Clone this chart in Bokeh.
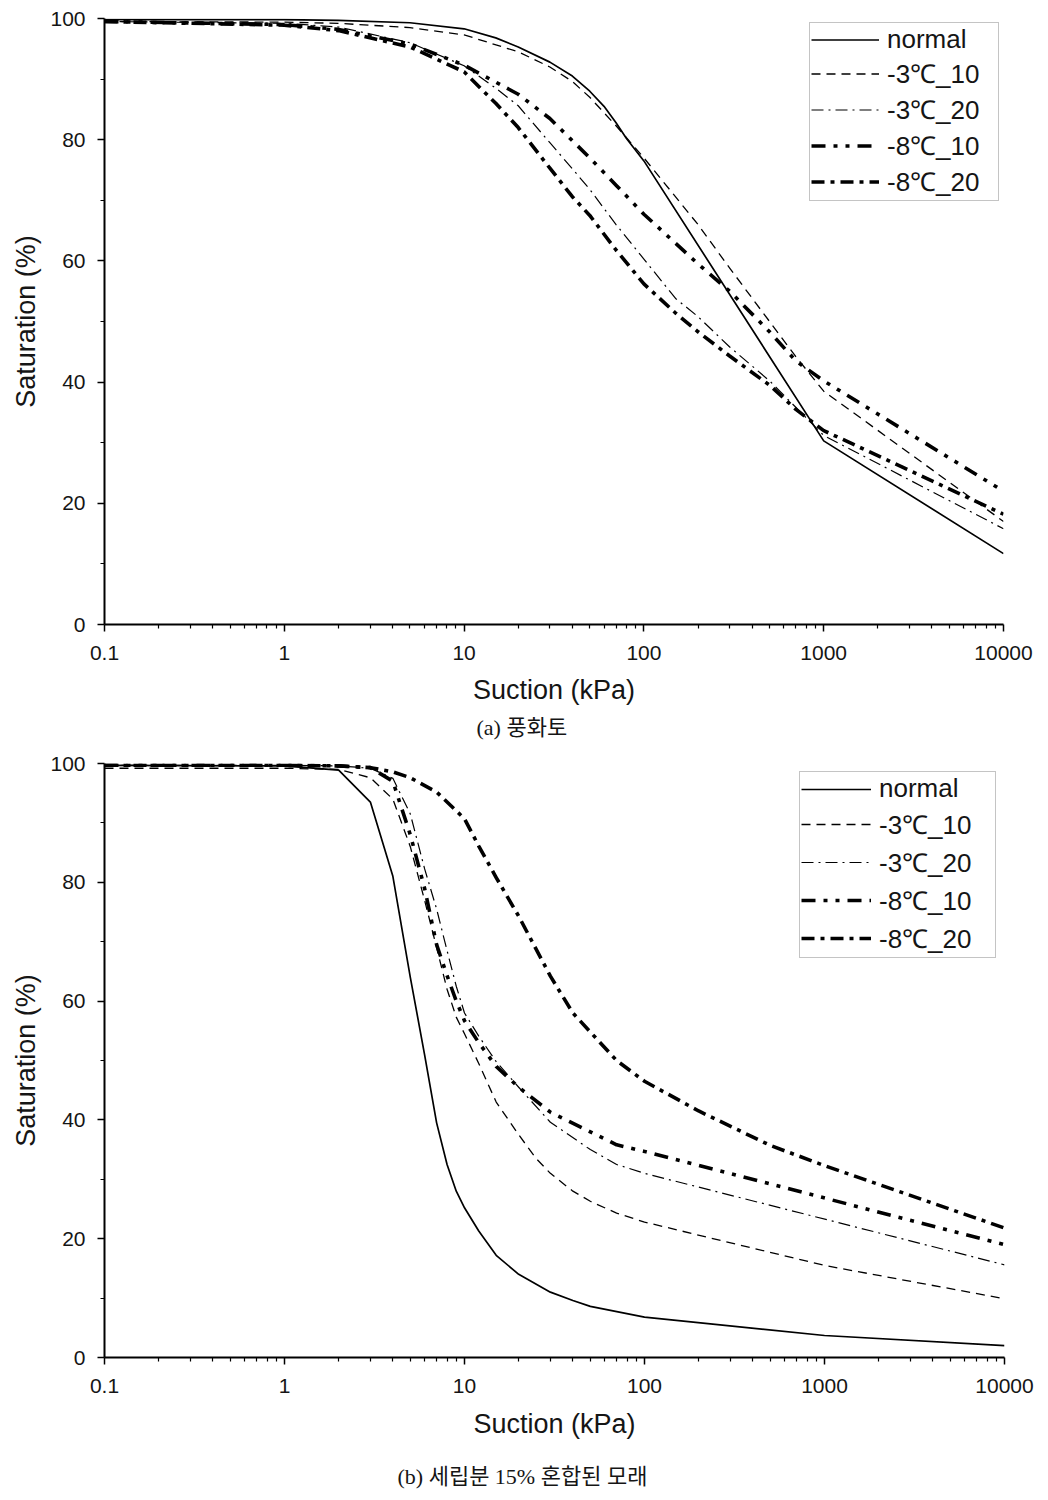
from bokeh.plotting import figure
from bokeh.models import (FixedTicker, CustomJSTickFormatter, Legend, LegendItem,
                          Title, Range1d)
from bokeh.layouts import column
from bokeh.embed import file_html
from bokeh.resources import INLINE

# ---------------- tick / label data ----------------
x_major_ticks = [0.1, 1, 10, 100, 1000, 10000]
x_minor_ticks = [m * d for d in (0.1, 1, 10, 100, 1000) for m in range(2, 10)]
y_major_ticks = [0, 20, 40, 60, 80, 100]
y_minor_ticks = [10, 30, 50, 70, 90]
series_names = ["normal", "-3℃_10", "-3℃_20", "-8℃_10", "-8℃_20"]
x_label = "Suction (kPa)"
y_label = "Saturation (%)"
caption_a = "(a) 풍화토"
caption_b = "(b) 세립분 15% 혼합된 모래"

# ---------------- panel (a) data ----------------
a_normal_x = [0.1, 1, 2, 5, 10, 15, 20, 30, 40, 50, 60, 70, 80, 100, 1000, 10000]
a_normal_y = [99.8, 99.8, 99.7, 99.3, 98.3, 96.8, 95.3, 92.8, 90.5, 88.0, 85.5, 82.8, 80.2, 76.5, 30.3, 11.7]

a_m3_10_x = [0.1, 1, 2, 5, 10, 20, 30, 40, 50, 70, 100, 200, 300, 500, 700, 1000, 10000]
a_m3_10_y = [99.5, 99.4, 99.2, 98.5, 97.3, 94.5, 92.0, 89.6, 87.0, 82.3, 77.0, 66.0, 58.8, 50.0, 44.2, 38.5, 17.0]

a_m3_20_x = [0.1, 1, 2, 5, 10, 15, 20, 30, 40, 50, 70, 100, 150, 200, 300, 500, 1000, 10000]
a_m3_20_y = [99.5, 99.2, 98.6, 96.0, 92.2, 88.5, 85.6, 79.5, 75.2, 71.8, 66.0, 60.3, 53.8, 50.8, 45.8, 40.2, 31.2, 15.8]

a_m8_10_x = [0.1, 1, 2, 5, 10, 20, 30, 50, 70, 100, 200, 300, 500, 700, 1000, 10000]
a_m8_10_y = [99.5, 99.0, 98.2, 95.8, 92.3, 87.5, 83.5, 77.0, 72.5, 67.7, 59.5, 55.0, 48.3, 43.5, 40.2, 22.0]

a_m8_20_x = [0.1, 1, 2, 5, 10, 15, 20, 30, 40, 50, 70, 100, 150, 200, 300, 500, 700, 1000, 10000]
a_m8_20_y = [99.5, 98.9, 98.0, 95.3, 91.2, 86.0, 82.0, 75.3, 70.6, 67.5, 61.8, 56.2, 51.4, 48.3, 44.3, 39.5, 35.5, 32.0, 18.2]

# ---------------- panel (b) data ----------------
b_normal_x = [0.1, 1, 2, 3, 4, 5, 6, 7, 8, 9, 10, 12, 15, 20, 30, 40, 50, 100, 1000, 10000]
b_normal_y = [99.7, 99.6, 98.9, 93.5, 81.0, 64.0, 51.0, 39.5, 32.5, 28.0, 25.2, 21.3, 17.2, 14.0, 11.0, 9.6, 8.6, 6.8, 3.7, 2.0]

b_m3_10_x = [0.1, 1, 2, 3, 4, 5, 6, 7, 8, 9, 10, 12, 15, 20, 25, 30, 40, 50, 70, 100, 1000, 10000]
b_m3_10_y = [99.2, 99.2, 99.0, 97.6, 94.0, 86.0, 77.0, 69.0, 62.0, 57.3, 54.5, 49.5, 43.0, 37.5, 33.5, 31.0, 28.0, 26.3, 24.3, 22.8, 15.5, 9.9]

b_m3_20_x = [0.1, 1, 2, 3, 4, 5, 6, 7, 8, 9, 10, 12, 15, 20, 30, 50, 70, 100, 10000]
b_m3_20_y = [99.7, 99.7, 99.6, 99.2, 97.5, 91.5, 82.3, 75.5, 68.5, 62.5, 58.0, 54.1, 49.8, 45.5, 39.6, 35.0, 32.5, 31.0, 15.6]

b_m8_10_x = [0.1, 1, 2, 3, 4, 5, 6, 7, 8, 9, 10, 12, 15, 20, 30, 50, 70, 100, 10000]
b_m8_10_y = [99.7, 99.7, 99.6, 99.3, 97.0, 88.0, 79.0, 69.5, 64.3, 60.0, 56.7, 53.0, 49.0, 45.5, 41.3, 38.0, 35.8, 34.7, 19.0]

b_m8_20_x = [0.1, 1, 2, 3, 4, 5, 7, 10, 12, 15, 20, 30, 40, 50, 70, 100, 200, 500, 1000, 10000]
b_m8_20_y = [99.7, 99.7, 99.6, 99.3, 98.6, 97.6, 95.2, 90.7, 86.1, 80.8, 74.3, 64.2, 58.0, 54.8, 50.0, 46.5, 41.5, 35.7, 32.3, 21.8]

panel_a = [(a_normal_x, a_normal_y), (a_m3_10_x, a_m3_10_y), (a_m3_20_x, a_m3_20_y),
           (a_m8_10_x, a_m8_10_y), (a_m8_20_x, a_m8_20_y)]
panel_b = [(b_normal_x, b_normal_y), (b_m3_10_x, b_m3_10_y), (b_m3_20_x, b_m3_20_y),
           (b_m8_10_x, b_m8_10_y), (b_m8_20_x, b_m8_20_y)]

# ---------------- styles ----------------
STYLES = [
    dict(line_width=1.7, line_dash="solid"),
    dict(line_width=1.3, line_dash="9 6"),
    dict(line_width=1.2, line_dash="12 5 2 5"),
    dict(line_width=3.6, line_dash="14 8 4 8 4 8"),
    dict(line_width=3.6, line_dash="13 6 4 6"),
]
SANS = "Liberation Sans"
CAPTION_FONT = "'Liberation Serif', 'Noto Sans CJK KR'"
INK = "#151515"


def make_panel(series, caption, left, top, fw, fh, right, bottom, xlab_standoff,
               leg_margin, leg_gh, leg_sp, leg_gw, leg_lw, cap_offset, cap_standoff):
    p = figure(x_axis_type="log", x_range=Range1d(0.1, 10000), y_range=Range1d(0, 100),
               frame_width=fw, frame_height=fh,
               min_border_left=left, min_border_right=right,
               min_border_top=top, min_border_bottom=bottom,
               output_backend="svg", toolbar_location=None,
               x_axis_label=x_label, y_axis_label=y_label)
    p.outline_line_color = None
    p.grid.visible = False
    p.background_fill_color = "white"
    p.border_fill_color = "white"

    p.xaxis.ticker = FixedTicker(ticks=x_major_ticks, minor_ticks=x_minor_ticks)
    p.xaxis.formatter = CustomJSTickFormatter(code="return String(tick)")
    p.yaxis.ticker = FixedTicker(ticks=y_major_ticks, minor_ticks=y_minor_ticks)

    for ax in (p.xaxis[0], p.yaxis[0]):
        ax.axis_line_width = 2
        ax.axis_line_color = "black"
        ax.major_tick_line_color = "black"
        ax.major_tick_line_width = 1.5
        ax.major_tick_in = 0
        ax.major_tick_out = 7
        ax.minor_tick_line_color = "black"
        ax.minor_tick_line_width = 1.2
        ax.minor_tick_in = 0
        ax.minor_tick_out = 4
        ax.major_label_text_font = SANS
        ax.major_label_text_font_size = "21px"
        ax.major_label_text_color = INK
        ax.axis_label_text_font = SANS
        ax.axis_label_text_font_size = "27px"
        ax.axis_label_text_font_style = "normal"
        ax.axis_label_text_color = INK
    p.xaxis.major_label_standoff = 14
    p.xaxis.axis_label_standoff = xlab_standoff
    p.yaxis.major_label_standoff = 12
    p.yaxis.axis_label_standoff = 6

    items = []
    for (xs, ys), name, st in zip(series, series_names, STYLES):
        r = p.line(xs, ys, line_color="black", line_join="round", **st)
        items.append(LegendItem(label=name, renderers=[r]))

    leg = Legend(items=items, location="top_right")
    leg.margin = leg_margin
    leg.padding = 1
    leg.spacing = leg_sp
    leg.glyph_width = leg_gw
    leg.glyph_height = leg_gh
    leg.label_height = leg_gh
    leg.label_width = leg_lw
    leg.label_standoff = 8
    leg.label_text_font = SANS
    leg.label_text_font_size = "26px"
    leg.label_text_color = INK
    leg.border_line_color = "#8a8a8a"
    leg.border_line_width = 1.5
    leg.background_fill_color = "white"
    leg.background_fill_alpha = 1.0
    p.add_layout(leg)

    cap = Title(text=caption, align="left", offset=cap_offset, standoff=cap_standoff,
                text_font=CAPTION_FONT, text_font_size="22px",
                text_font_style="normal", text_color=INK)
    p.add_layout(cap, "below")
    return p


pa = make_panel(panel_a, caption_a, left=102, top=18, fw=899, fh=606, right=37, bottom=123,
                xlab_standoff=12, leg_margin=4, leg_gh=27, leg_sp=0, leg_gw=68, leg_lw=110,
                cap_offset=372, cap_standoff=10)
pb = make_panel(panel_b, caption_b, left=104, top=16, fw=900, fh=594, right=34, bottom=132,
                xlab_standoff=13, leg_margin=8, leg_gh=28, leg_sp=2, leg_gw=70, leg_lw=115,
                cap_offset=293, cap_standoff=40)

layout = column(pa, pb, spacing=0)
open("out.html", "w").write(file_html(layout, INLINE))
